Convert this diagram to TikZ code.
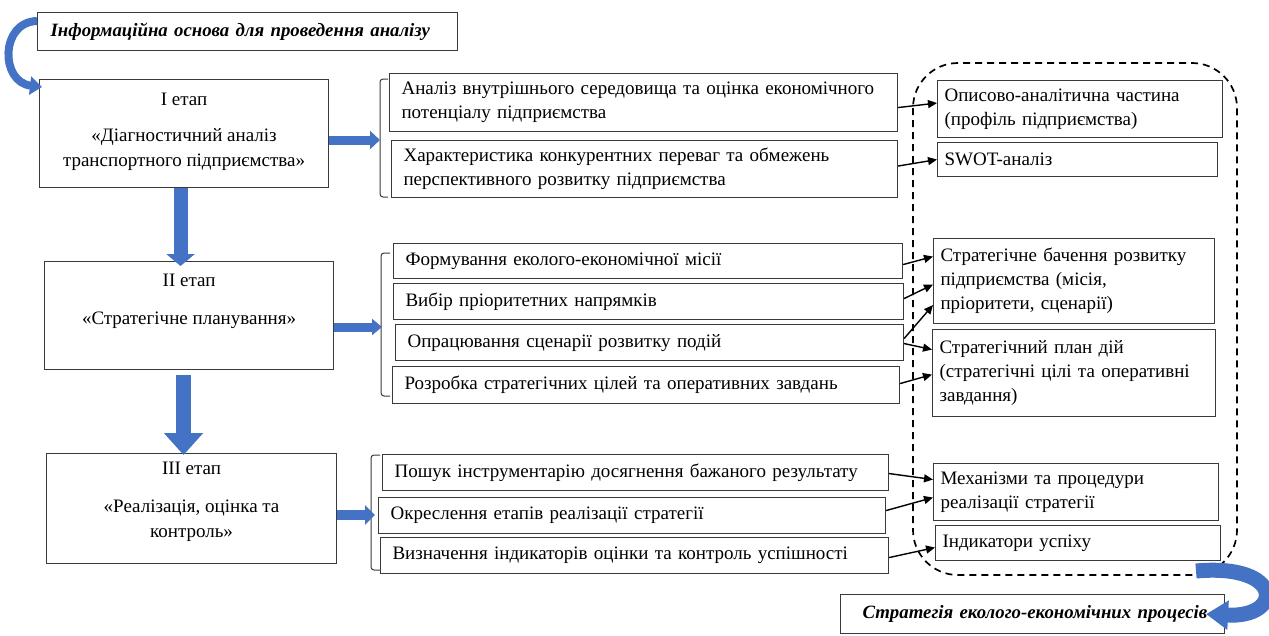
\documentclass[tikz,border=0pt]{standalone}
\usepackage{fontspec}
\setmainfont{Liberation Serif}
\usetikzlibrary{calc,arrows.meta}
\definecolor{bluearr}{HTML}{4472C4}
\definecolor{boxline}{HTML}{3A3A3A}
\newcommand{\nb}[1]{\mbox{#1}}
\tikzset{
  txt/.style={font=\fontsize{19}{24}\selectfont},
  box/.style={txt, draw=boxline, line width=1.1pt, fill=white, inner ysep=0pt, align=left, anchor=north west},
  midbox/.style={box, inner xsep=12pt},
  resbox/.style={box, inner xsep=7pt},
  stagebox/.style={draw=boxline, line width=1.1pt, fill=white, anchor=north west, inner sep=0pt},
  stagetext/.style={font=\fontsize{19}{25}\selectfont, align=center, anchor=north, inner sep=0pt},
  emph box/.style={box, font=\fontsize{18.8}{24}\selectfont\bfseries\itshape},
  region/.style={draw=black, line width=1.7pt, dash pattern=on 7pt off 5pt, rounded corners=45pt},
  bracketline/.style={draw=boxline, line width=1pt, rounded corners=3pt},
  arr/.style={draw=black, line width=1.4pt, -{Triangle[length=9pt,width=8pt]}},
  barr/.style n args={3}{draw=bluearr, line width=#1, -{Triangle[width=#2,length=#3]}},
}
\begin{document}
\begin{tikzpicture}[x=1pt,y=-1pt]
\useasboundingbox (0,0) rectangle (1269,635);

% dashed region
\draw[region] (913,63) rectangle (1237,575);

% top and bottom emphasised boxes
\node[emph box, inner xsep=13pt, text width=394pt, minimum height=38pt] (info) at (37,12) {\nb{Інформаційна основа для проведення аналізу}};
\node[emph box, inner xsep=22pt, text width=340pt, minimum height=39pt] (out) at (840,594) {\nb{Стратегія еколого-економічних процесів}};

% stages
\node[stagebox, minimum width=289pt, minimum height=108pt] (s1) at (39,79) {};
\node[stagetext] (s1t) at ($(s1.north)+(0,9)$) {\strut І етап\\[11pt]«Діагностичний аналіз\\транспортного підприємства»};
\node[stagebox, minimum width=289pt, minimum height=108pt] (s2) at (44,261) {};
\node[stagetext] (s2t) at ($(s2.north)+(0,7.5)$) {\strut ІІ етап\\[13pt]«Стратегічне планування»};
\node[stagebox, minimum width=290pt, minimum height=110pt] (s3) at (46,453) {};
\node[stagetext] (s3t) at ($(s3.north)+(0,4)$) {\strut ІІІ етап\\[13pt]«Реалізація, оцінка та\\контроль»};

% middle boxes
\node[midbox, text width=484pt, minimum height=58pt] (A1) at (389,73) {\nb{Аналіз внутрішнього середовища та оцінка економічного}\\потенціалу підприємства};
\node[midbox, text width=482pt, minimum height=57pt] (A2) at (391,140) {\nb{Характеристика конкурентних переваг та обмежень}\\перспективного розвитку підприємства};
\node[midbox, text width=485pt, minimum height=35pt] (B1) at (393,243) {Формування еколого-економічної місії};
\node[midbox, text width=486pt, minimum height=36pt] (B2) at (393,283) {Вибір пріоритетних напрямків};
\node[midbox, text width=484pt, minimum height=36pt] (B3) at (395,324) {Опрацювання сценарії розвитку подій};
\node[midbox, text width=483pt, minimum height=37pt] (B4) at (392,366) {\nb{Розробка стратегічних цілей та оперативних завдань}};
\node[midbox, text width=482pt, minimum height=36pt] (C1) at (382,454) {\nb{Пошук інструментарію досягнення бажаного результату}};
\node[midbox, text width=483pt, minimum height=36pt] (C2) at (378,497) {Окреслення етапів реалізації стратегії};
\node[midbox, text width=484pt, minimum height=36pt] (C3) at (380,537) {\nb{Визначення індикаторів оцінки та контроль успішності}};

% result boxes
\node[resbox, text width=271pt, minimum height=57pt] (R1) at (937,80) {\nb{Описово-аналітична частина}\\(профіль підприємства)};
\node[resbox, text width=266pt, minimum height=34pt] (R2) at (937,142) {SWOT-аналіз};
\node[resbox, text width=267pt, minimum height=85pt] (R3) at (933,238) {\nb{Стратегічне бачення розвитку}\\підприємства (місія,\\пріоритети, сценарії)};
\node[resbox, text width=269pt, minimum height=87pt] (R4) at (932,329) {Стратегічний план дій\\\nb{(стратегічні цілі та оперативні}\\завдання)};
\node[resbox, text width=271pt, minimum height=57pt] (R5) at (933,463) {Механізми та процедури\\реалізації стратегії};
\node[resbox, text width=271pt, minimum height=35pt] (R6) at (935,525) {Індикатори успіху};

% brackets
\coordinate (br1) at (380,140);
\coordinate (br2) at (382,327);
\coordinate (br3) at (375,515);
\draw[bracketline] (388,79) -- (380,79) -- (380,197) -- (388,197);
\draw[bracketline] (390,253) -- (381,253) -- (381,396) -- (390,396);
\draw[bracketline] (380,455) -- (371,455) -- (371,570) -- (380,570);

% blue block arrows
\draw[barr={14pt}{28pt}{12pt}] ($(s1.south)+(-3.5,0)$) -- ($(s2.north)+(-8.5,5)$);
\draw[barr={15pt}{38pt}{22pt}] ($(s2.south)+(-5.5,5)$) -- ($(s3.north)+(-8,2)$);
\draw[barr={9pt}{18pt}{10pt}] (s1.east |- br1) -- (br1);
\draw[barr={9pt}{16pt}{10pt}] (s2.east |- br2) -- (br2);
\draw[barr={10pt}{19pt}{10pt}] (s3.east |- br3) -- (br3);

% curved arrows
\draw[barr={8pt}{18pt}{12pt}] ($(info.north west)+(0,9)$) .. controls (0,22) and (0,82) .. ($(s1.north west)+(3,8)$);
\draw[barr={15pt}{28pt}{22pt}] (1196,571) .. controls (1284,563) and (1284,618) .. ($(out.east)+(-19,0)$);

% black arrows
\draw[arr] ($(A1.east)+(0,5)$) -- ($(R1.west)+(0,-6)$);
\draw[arr] ($(A2.east)+(0,-3)$) -- ($(R2.west)+(0,0)$);
\draw[arr] ($(B1.east)+(0,3.5)$) -- ($(R3.west)+(0,-24.5)$);
\draw[arr] ($(B2.east)+(0,-3)$) -- ($(R3.west)+(0,3.5)$);
\draw[arr] ($(B3.east)+(0,-4)$) -- ($(R3.west)+(0,24)$);
\draw[arr] ($(B3.east)+(0,1)$) -- ($(R4.west)+(0,-23.5)$);
\draw[arr] ($(B4.east)+(0,-1.5)$) -- ($(R4.west)+(0,1.5)$);
\draw[arr] ($(C1.east)+(0,1)$) -- ($(R5.west)+(0,-12.5)$);
\draw[arr] ($(C2.east)+(0,-5)$) -- ($(R5.west)+(0,5.5)$);
\draw[arr] ($(C3.east)+(0,2)$) -- ($(R6.west)+(0,4.5)$);
\end{tikzpicture}
\end{document}
